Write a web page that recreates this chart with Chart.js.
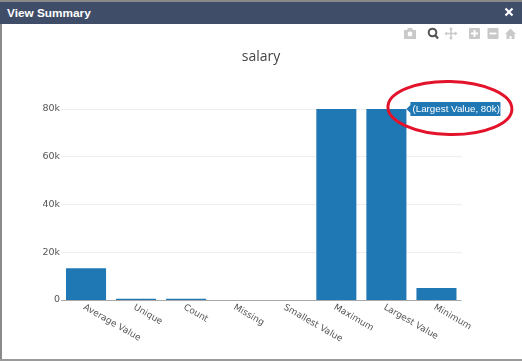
<!DOCTYPE html>
<html><head><meta charset="utf-8">
<script src="https://cdn.jsdelivr.net/npm/chart.js@4"></script>
<style>
html,body{margin:0;padding:0;background:#fff;overflow:hidden}
#frame{position:absolute;left:0;top:0;width:522px;height:361px;overflow:hidden;background:#fff}
#edgeT{position:absolute;left:0;top:0;width:522px;height:2px;background:#8a8a8a}
#edgeL{position:absolute;left:0;top:0;width:1.5px;height:361px;background:#8a8a8a}
#edgeB{position:absolute;left:0;top:359px;width:522px;height:2px;background:#9a9a9a}
#head{position:absolute;left:0;top:2px;width:522px;height:22px;background:#3f4d69;color:#fff;font:bold 11.8px/22px "Liberation Sans",Arial,sans-serif}
#head span{position:absolute;left:7px;top:0}
#c{position:absolute;left:0;top:0}
svg.ic{position:absolute;left:0;top:0}
</style></head><body>
<div id="frame">
<canvas id="c" width="522" height="361"></canvas>
<div id="edgeT"></div><div id="edgeL"></div><div id="edgeB"></div>
<div id="head"><span>View Summary</span></div>
<svg class="ic" width="522" height="361" viewBox="0 0 522 361">
  <path d="M505.500 8.500l7 7m0-7l-7 7" stroke="#fff" stroke-width="2.2" fill="none"/>
  <path d="M404 30h3l1-2h4l1 2h3v9h-12z" fill="#c9c9c9"/><circle cx="410" cy="34" r="2.400" fill="#fff"/>
  <circle cx="432.500" cy="32.500" r="3.800" fill="none" stroke="#555" stroke-width="2"/><path d="M435 35l3 3.500" stroke="#555" stroke-width="2.200"/>
  <path d="M451 28v11M445.500 33.500h11" stroke="#c9c9c9" stroke-width="1.500"/><path d="M451 27l2 2.500h-4zM451 40l2-2.500h-4zM444.500 33.500l2.500-2v4zM457.500 33.500l-2.500-2v4z" fill="#c9c9c9"/>
  <rect x="469" y="28" width="11" height="11" rx="1" fill="#c9c9c9"/><path d="M471 33.500h7M474.500 30v7" stroke="#fff" stroke-width="1.800"/>
  <rect x="487.500" y="28" width="11" height="11" rx="1" fill="#c9c9c9"/><path d="M489.500 33.500h7" stroke="#fff" stroke-width="1.800"/>
  <path d="M505 34l5.500-5.500 5.500 5.500h-1.500v5h-3v-3h-2v3h-3v-5z" fill="#c9c9c9"/>
</svg>
</div>
<script>
const categories = ["Average Value","Unique","Count","Missing","Smallest Value","Maximum","Largest Value","Minimum"];
const salaryValues = [13300,500,500,0,0,80000,80000,5000];
const yTicks = [0,20000,40000,60000,80000];
const yTickLabels = ["0","20k","40k","60k","80k"];
const chartTitle = "salary";
const hoverIndex = 6;
const barColor = "#1f77b4";
const labelFont = '"DejaVu Sans",Verdana,sans-serif';

class SlantCategory extends Chart.CategoryScale {
  _getXAxisLabelAlignment(){ return 'left'; }
  _computeLabelItems(area){
    const items = super._computeLabelItems(area);
    items.forEach(it=>{ it.options.translation[0] -= 2; it.options.translation[1] += 1; });
    return items;
  }
}
SlantCategory.id = 'slantCategory';
SlantCategory.defaults = Chart.CategoryScale.defaults;
Chart.register(SlantCategory);

const hoverNote = {
  id:'hoverNote',
  afterDraw(chart){
    const ctx = chart.ctx;
    const bar = chart.getDatasetMeta(0).data[hoverIndex];
    const ax = bar.x + bar.width/2, ay = bar.y;
    ctx.save();
    ctx.fillStyle = barColor;
    ctx.beginPath();
    ctx.moveTo(ax, ay); ctx.lineTo(ax+4, ay-4); ctx.lineTo(ax+4, ay-7); ctx.lineTo(ax+94, ay-7);
    ctx.lineTo(ax+94, ay+7); ctx.lineTo(ax+4, ay+7); ctx.lineTo(ax+4, ay+4); ctx.closePath(); ctx.fill();
    ctx.fillStyle = '#fff';
    ctx.font = '9.8px "Liberation Sans",Arial,sans-serif';
    ctx.textBaseline = 'middle'; ctx.textAlign = 'left';
    const i = yTicks.indexOf(salaryValues[hoverIndex]);
    ctx.fillText('(' + categories[hoverIndex] + ', ' + yTickLabels[i] + ')', ax+6, ay+0.5);
    ctx.strokeStyle = '#e2132b'; ctx.lineWidth = 3;
    ctx.beginPath();
    ctx.ellipse(ax+43.5, ay-1, 62, 26.5, 0.02, 0, Math.PI*2);
    ctx.stroke();
    ctx.restore();
  }
};

new Chart(document.getElementById('c'), {
  type:'bar',
  data:{labels:categories, datasets:[{data:salaryValues, backgroundColor:barColor, borderWidth:0, barPercentage:0.8, categoryPercentage:1}]},
  options:{
    responsive:false, animation:false, devicePixelRatio:1,
    plugins:{
      legend:{display:false}, tooltip:{enabled:false},
      title:{display:true,text:chartTitle,color:'#444',font:{family:'"Open Sans",sans-serif',size:14,weight:'normal',lineHeight:1.2},padding:{top:49,bottom:43.2}}
    },
    scales:{
      x:{type:'slantCategory',
        grid:{display:false,drawTicks:false}, border:{display:false},
        ticks:{autoSkip:false,minRotation:-30,maxRotation:-30,padding:1,color:'#555',font:{family:labelFont,size:9}},
        afterFit(s){s.height=61;}},
      y:{min:0,max:80000,
        afterBuildTicks(s){s.ticks=yTicks.map(v=>({value:v}));},
        grid:{drawTicks:false,lineWidth:1,color:c=>c.tick.value===0?'#aaaaaa':'#eeeeee'},
        border:{display:false},
        ticks:{padding:1,color:'#555',font:{family:labelFont,size:9.5},callback:v=>yTickLabels[yTicks.indexOf(v)]},
        afterFit(s){s.width=61; s.getLineWidthForValue=()=>0;}},
      gutter:{position:'right',min:0,max:1,grid:{display:false,drawTicks:false},border:{display:false},ticks:{display:false},afterFit(s){s.width=60.5;}}
    }
  },
  plugins:[hoverNote]
});
</script>
</body></html>
